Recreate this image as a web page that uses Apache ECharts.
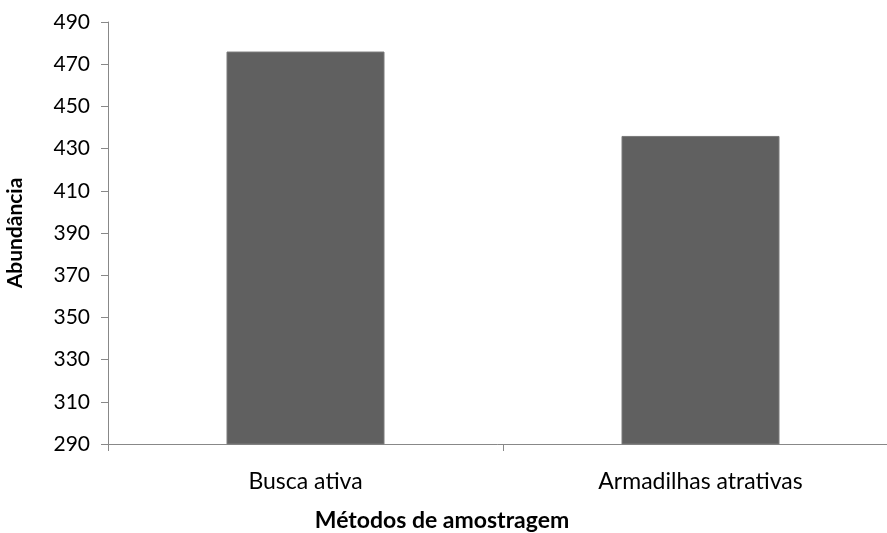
<!DOCTYPE html>
<html><head><meta charset="utf-8">
<script src="https://cdn.jsdelivr.net/npm/echarts@6/dist/echarts.min.js"></script>
<style>html,body{margin:0;padding:0;background:#fff}#c{width:887px;height:533px}</style>
</head><body><div id="c"></div>
<script>
const categories = ['Busca ativa', 'Armadilhas atrativas'];
const abundance = [476, 436];
const yMin = 290, yMax = 490, yStep = 20;

const chart = echarts.init(document.getElementById('c'));
chart.setOption({
  animation: false,
  grid: { left: 108, top: 22, width: 790, height: 422, outerBoundsMode: 'none', containLabel: false },
  xAxis: {
    type: 'category', data: categories,
    name: 'Métodos de amostragem', nameLocation: 'middle', nameGap: 65,
    nameTextStyle: { fontFamily: 'Lato', fontWeight: 'bold', fontSize: 23, color: '#000', padding: [0, 0, 0, -122] },
    axisLine: { lineStyle: { color: '#888', width: 1 } },
    axisTick: { show: true, length: 7, lineStyle: { color: '#888' } },
    axisLabel: { color: '#000', fontFamily: 'Lato', fontSize: 23, margin: 26 }
  },
  yAxis: {
    type: 'value', min: yMin, max: yMax, interval: yStep,
    name: 'Abundância', nameLocation: 'middle', nameGap: 82, nameRotate: 90,
    nameTextStyle: { fontFamily: 'Lato', fontWeight: 'bold', fontSize: 21, color: '#000' },
    axisLine: { show: true, lineStyle: { color: '#888', width: 1 } },
    axisTick: { show: true, length: 7, lineStyle: { color: '#888' } },
    splitLine: { show: false },
    axisLabel: { color: '#000', fontFamily: 'Lato', fontSize: 21, margin: 18 }
  },
  series: [{
    type: 'bar', data: abundance, barWidth: '40%',
    itemStyle: { color: '#606060', borderColor: '#7a7a7a', borderWidth: 1 }
  }]
});
</script></body></html>
